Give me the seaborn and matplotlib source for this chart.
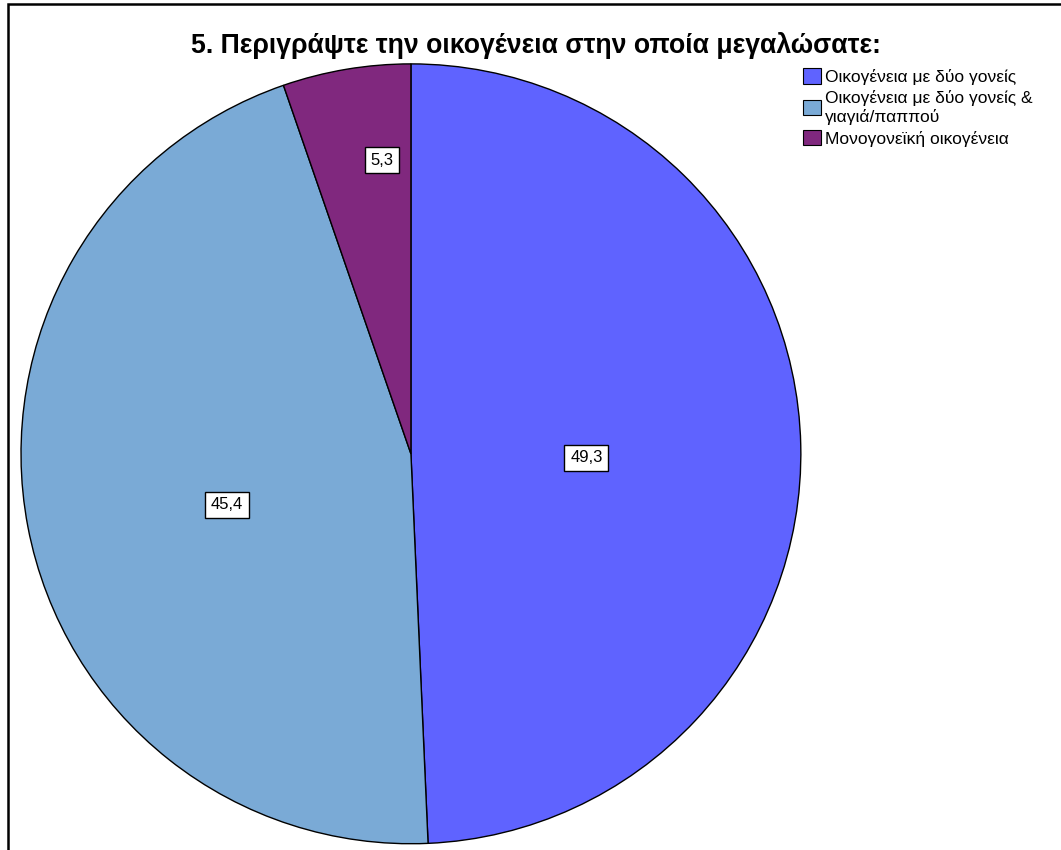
import numpy as np
import matplotlib
matplotlib.use('Agg')
import matplotlib.pyplot as plt
import seaborn as sns
from matplotlib.patches import Patch, Rectangle

categories = ['Οικογένεια με δύο γονείς',
              'Οικογένεια με δύο γονείς &\nγιαγιά/παππού',
              'Μονογονεϊκή οικογένεια']
values = [49.3, 45.4, 5.3]
colors = ['#5F63FF', '#7AAAD6', '#80287E']
label_radius = [0.45, 0.49, 0.757]
label_shift = [-2.6, 4.7, -3.9]

sns.set_theme(style='white')
plt.rcParams['font.family'] = ['Liberation Sans', 'DejaVu Sans']
plt.rcParams['text.color'] = 'black'

fig = plt.figure(figsize=(10.61, 8.5), dpi=100)
ax = fig.add_axes([0.0198, 0.0071, 0.735, 0.918])

wedges, _ = ax.pie(values, colors=colors, startangle=90, counterclock=False,
                   wedgeprops=dict(edgecolor='black', linewidth=1.0))
ax.set_aspect('equal')
ax.set_xlim(-1, 1)
ax.set_ylim(-1, 1)
ax.axis('off')

# value labels in white boxes
for w, v, r, s in zip(wedges, values, label_radius, label_shift):
    ang = np.deg2rad((w.theta1 + w.theta2) / 2 + s)
    ax.text(r * np.cos(ang), r * np.sin(ang), f'{v:.1f}'.replace('.', ','),
            ha='center', va='center', fontsize=12, color='black',
            bbox=dict(boxstyle='square,pad=0.35', facecolor='white',
                      edgecolor='black', linewidth=1.0))

fig.text(0.505, 0.946, '5. Περιγράψτε την οικογένεια στην οποία μεγαλώσατε:',
         ha='center', va='center', fontsize=19.2, fontweight='bold', color='black')

handles = [Patch(facecolor=c, edgecolor='black', linewidth=0.8) for c in colors]
leg = fig.legend(handles, categories, loc='upper left', bbox_to_anchor=(0.7505, 0.928),
                 frameon=False, fontsize=12.5, handlelength=1.0, handleheight=1.0,
                 handletextpad=0.25, labelspacing=0.3, borderaxespad=0)
for t in leg.get_texts():
    t.set_color('black')

# frame around the chart (cropped on right and bottom)
fig.patches.append(Rectangle((8 / 1061, -0.1), 1.2, (850 - 4) / 850 + 0.1,
                             transform=fig.transFigure, fill=False,
                             edgecolor='black', linewidth=1.8))

fig.savefig('out.png', dpi=100)
